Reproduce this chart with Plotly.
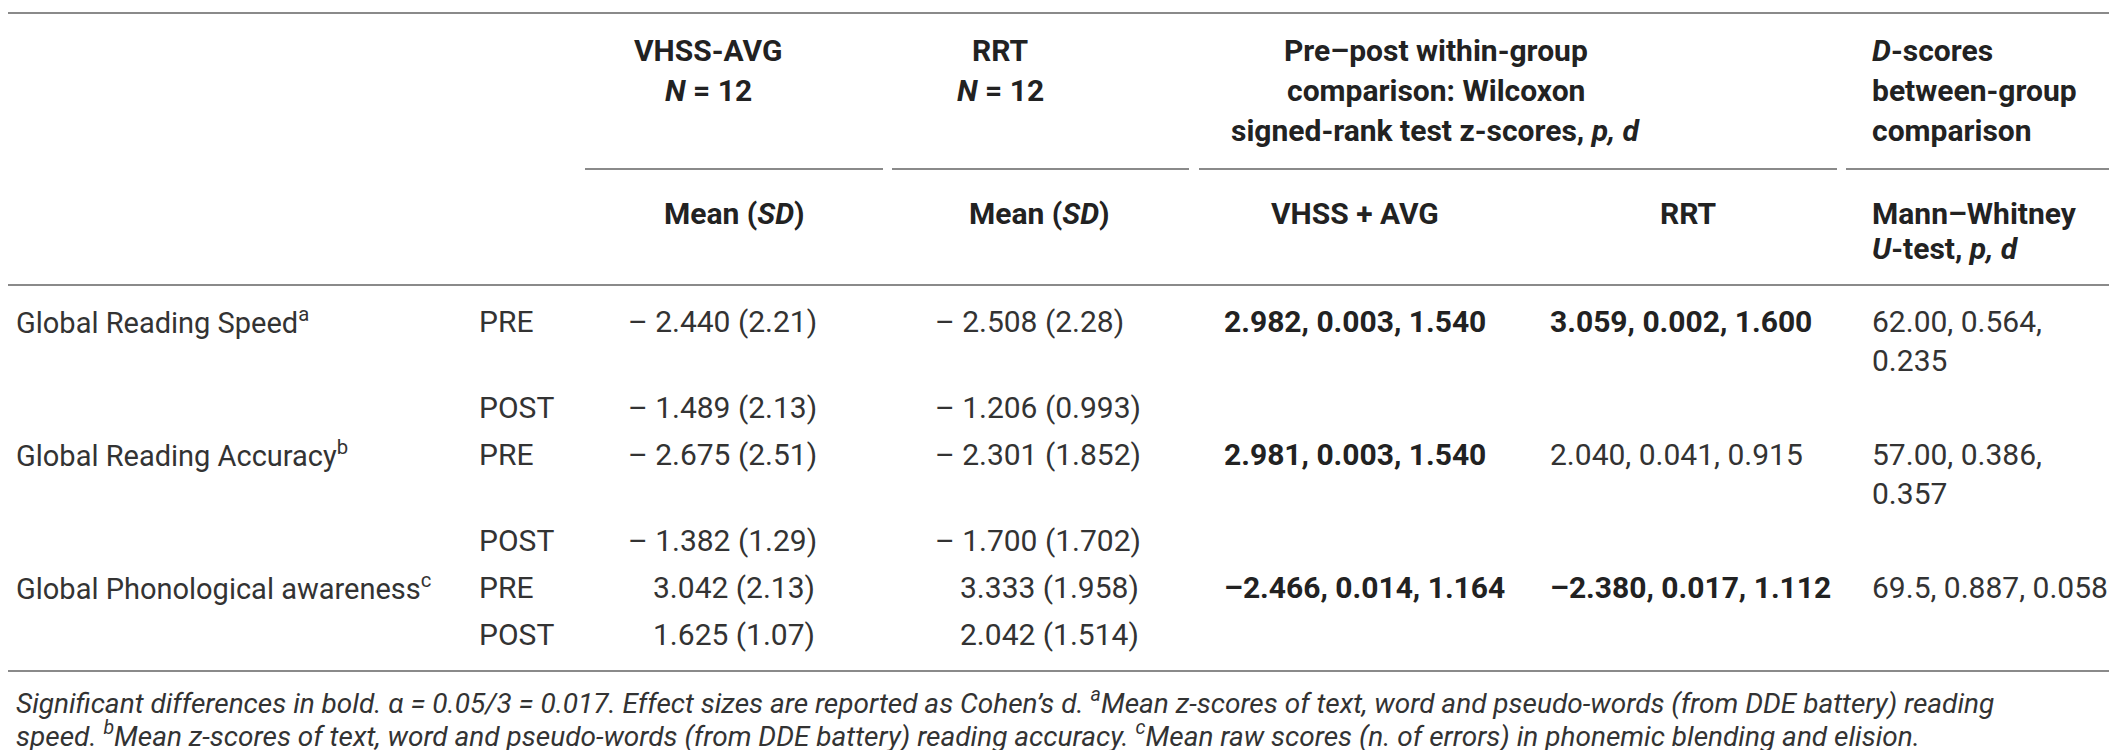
import plotly.graph_objects as go

# ---------------- data ----------------
measures = ["Global Reading Speed", "Global Reading Accuracy", "Global Phonological awareness"]
measure_notes = ["a", "b", "c"]
phases = ["PRE", "POST"]

vhss_mean = [[-2.440, -1.489], [-2.675, -1.382], [3.042, 1.625]]
vhss_sd = [["2.21", "2.13"], ["2.51", "1.29"], ["2.13", "1.07"]]
rrt_mean = [[-2.508, -1.206], [-2.301, -1.700], [3.333, 2.042]]
rrt_sd = [["2.28", "0.993"], ["1.852", "1.702"], ["1.958", "1.514"]]

vhss_z = [2.982, 2.981, -2.466]
vhss_p = [0.003, 0.003, 0.014]
vhss_d = [1.540, 1.540, 1.164]
rrt_z = [3.059, 2.040, -2.380]
rrt_p = [0.002, 0.041, 0.017]
rrt_d = [1.600, 0.915, 1.112]

mw_u = ["62.00", "57.00", "69.5"]
mw_p = [0.564, 0.386, 0.887]
mw_d = [0.235, 0.357, 0.058]

alpha = 0.017

footnote_lines = [
    "Significant differences in bold. α = 0.05/3 = 0.017. Effect sizes are reported as Cohen’s d. "
    "<sup>a</sup>Mean z-scores of text, word and pseudo-words (from DDE battery) reading",
    "speed. <sup>b</sup>Mean z-scores of text, word and pseudo-words (from DDE battery) reading accuracy. "
    "<sup>c</sup>Mean raw scores (n. of errors) in phonemic blending and elision.",
]

# ---------------- layout constants ----------------
W, H = 2117, 750
FONT = "Roboto, 'Liberation Sans', Arial, sans-serif"
TXT = "#333333"
BOLD = "#222222"
LINE = "#8a8a8a"
FS = 30
FS_LABEL = 29
FS_NOTE = 28

X_LABEL, X_PHASE = 6, 469
X_VHSS, X_RRT, POS_PAD = 618, 925, 25
X_WV, X_WR, X_MW = 1214, 1540, 1862
ROW_STEP, WRAP_STEP = 47, 39

fig = go.Figure()
fig.update_xaxes(range=[0, W], visible=False, fixedrange=True)
fig.update_yaxes(range=[H, 0], visible=False, fixedrange=True)

anns = []


def txt(x, y, s, anchor="left", size=FS, color=TXT):
    anns.append(dict(x=x, y=y, xref="x", yref="y", text=s, showarrow=False,
                     xanchor=anchor, yanchor="middle", align=anchor,
                     font=dict(family=FONT, size=size, color=color)))


shapes = []


def hline(x0, x1, y):
    shapes.append(dict(type="line", xref="x", yref="y", x0=x0, x1=x1, y0=y, y1=y,
                       line=dict(color=LINE, width=2)))


# rules
hline(0, W, 5)
for a, b in [(577, 875), (884, 1181), (1191, 1829), (1838, W)]:
    hline(a, b, 161)
hline(0, W, 277)
hline(0, W, 663)

# header
txt(700, 42, "<b>VHSS-AVG</b>", "center", color=BOLD)
txt(700, 82, "<b><i>N</i> = 12</b>", "center", color=BOLD)
txt(992, 42, "<b>RRT</b>", "center", color=BOLD)
txt(992, 82, "<b><i>N</i> = 12</b>", "center", color=BOLD)
txt(1428, 42, "<b>Pre–post within-group</b>", "center", color=BOLD)
txt(1428, 82, "<b>comparison: Wilcoxon</b>", "center", color=BOLD)
txt(1428, 122, "<b>signed-rank test z-scores, <i>p, d</i></b>", "center", color=BOLD)
txt(X_MW, 42, "<b><i>D</i>-scores</b>", color=BOLD)
txt(X_MW, 82, "<b>between-group</b>", color=BOLD)
txt(X_MW, 122, "<b>comparison</b>", color=BOLD)

txt(726, 205, "<b>Mean (<i>SD</i>)</b>", "center", color=BOLD)
txt(1031, 205, "<b>Mean (<i>SD</i>)</b>", "center", color=BOLD)
txt(1347, 205, "<b>VHSS + AVG</b>", "center", color=BOLD)
txt(1680, 205, "<b>RRT</b>", "center", color=BOLD)
txt(X_MW, 205, "<b>Mann–Whitney</b>", color=BOLD)
txt(X_MW, 240, "<b><i>U</i>-test, <i>p, d</i></b>", color=BOLD)


def fmt_mean(m, sd):
    if m < 0:
        return f"– {abs(m):.3f} ({sd})", 0
    return f"{m:.3f} ({sd})", POS_PAD


def fmt_w(z, p, d):
    zs = f"–{abs(z):.3f}" if z < 0 else f"{z:.3f}"
    s = f"{zs}, {p:.3f}, {d:.3f}"
    return (f"<b>{s}</b>", BOLD) if p <= alpha else (s, TXT)


y = 313
for i, name in enumerate(measures):
    txt(X_LABEL, y, f"{name}<sup>{measure_notes[i]}</sup>", size=FS_LABEL)
    mw_text = f"{mw_u[i]}, {mw_p[i]:.3f}, {mw_d[i]:.3f}"
    if len(mw_text) > 18:
        first, rest = mw_text.rsplit(" ", 1)
        mw_lines = [first, rest]
    else:
        mw_lines = [mw_text]
    for j, ph in enumerate(phases):
        txt(X_PHASE, y, ph)
        s, pad = fmt_mean(vhss_mean[i][j], vhss_sd[i][j])
        txt(X_VHSS + pad, y, s)
        s, pad = fmt_mean(rrt_mean[i][j], rrt_sd[i][j])
        txt(X_RRT + pad, y, s)
        if j == 0:
            s, c = fmt_w(vhss_z[i], vhss_p[i], vhss_d[i])
            txt(X_WV, y, s, color=c)
            s, c = fmt_w(rrt_z[i], rrt_p[i], rrt_d[i])
            txt(X_WR, y, s, color=c)
            for k, ln in enumerate(mw_lines):
                txt(X_MW, y + k * WRAP_STEP, ln)
            y += ROW_STEP + WRAP_STEP * (len(mw_lines) - 1)
        else:
            y += ROW_STEP

for k, ln in enumerate(footnote_lines):
    txt(X_LABEL, 693 + 33 * k, f"<i>{ln}</i>", size=FS_NOTE)

fig.update_layout(width=W, height=H, margin=dict(l=0, r=0, t=0, b=0),
                  paper_bgcolor="white", plot_bgcolor="white",
                  annotations=anns, shapes=shapes, showlegend=False)
fig.write_html("out.html")
